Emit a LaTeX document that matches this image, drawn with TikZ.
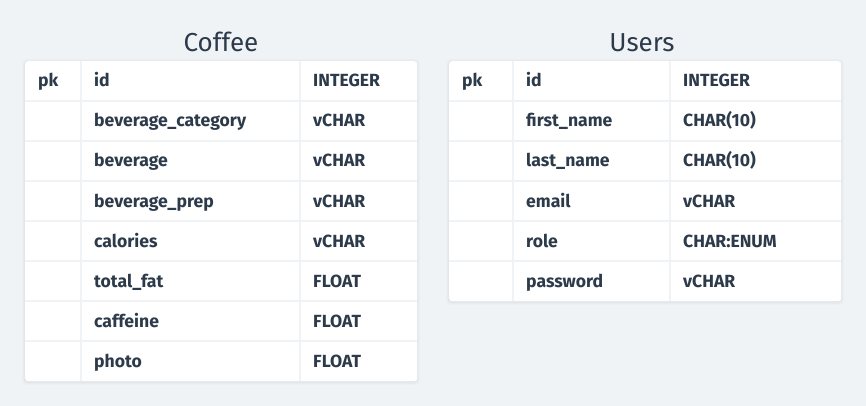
\documentclass[tikz,border=0pt]{standalone}
\usepackage{fontspec}
\setmainfont{Fira Sans}
\definecolor{bgc}{HTML}{EFF3F6}
\definecolor{txt}{HTML}{2C3A4A}
\tikzset{
  tablebox/.style={fill=white, rounded corners=3pt, inner sep=0pt, draw=none},
  sepline/.style={draw=bgc, line width=2pt},
  celltext/.style={anchor=base west, inner sep=0pt, text=txt, font=\fontsize{17.6}{20}\selectfont\bfseries},
  titletext/.style={anchor=base, inner sep=0pt, text=txt, font=\fontsize{26}{30}\selectfont},
}
\begin{document}
\begin{tikzpicture}[x=1pt,y=-1pt]
\fill[bgc] (0,0) rectangle (866,406);
\useasboundingbox (0,0) rectangle (866,406);
% shadows
\foreach \s/\o in {3/0.012,2/0.016,1/0.02}{
  \fill[black, opacity=\o, rounded corners=4pt] (25-\s,61-\s+1) rectangle (417+\s,381+\s+1);
  \fill[black, opacity=\o, rounded corners=4pt] (449-\s,61-\s+1) rectangle (841+\s,301+\s+1);
}
% Coffee table
\node[tablebox, minimum width=392pt, minimum height=320pt, anchor=north west] (coffee) at (25,61) {};
\draw[sepline] (81,61) -- (81,381);
\draw[sepline] (300,61) -- (300,381);
\foreach \k in {1,...,7} \draw[sepline] (25,61+40*\k) -- (417,61+40*\k);
\node[titletext] (coffeetitle) at (221,52) {Coffee};
\foreach [count=\i] \pk/\nm/\ty in {pk/id/INTEGER, /beverage\_category/vCHAR, /beverage/vCHAR, /beverage\_prep/vCHAR, /calories/vCHAR, /total\_fat/FLOAT, /caffeine/FLOAT, /photo/FLOAT}{
  \node[celltext] (cpk\i) at (38,61+40*\i-14) {\pk};
  \node[celltext] (cnm\i) at (94,61+40*\i-14) {\nm};
  \node[celltext] (cty\i) at (313,61+40*\i-14) {\ty};
}
% Users table
\node[tablebox, minimum width=392pt, minimum height=240pt, anchor=north west] (users) at (449,61) {};
\draw[sepline] (513,61) -- (513,301);
\draw[sepline] (670,61) -- (670,301);
\foreach \k in {1,...,5} \draw[sepline] (449,61+40*\k) -- (841,61+40*\k);
\node[titletext] (userstitle) at (642,52) {Users};
\foreach [count=\i] \pk/\nm/\ty in {pk/id/INTEGER, /first\_name/CHAR(10), /last\_name/CHAR(10), /email/vCHAR, /role/CHAR:ENUM, /password/vCHAR}{
  \node[celltext] (upk\i) at (462,61+40*\i-14) {\pk};
  \node[celltext] (unm\i) at (526,61+40*\i-14) {\nm};
  \node[celltext] (uty\i) at (683,61+40*\i-14) {\ty};
}
\end{tikzpicture}
\end{document}
